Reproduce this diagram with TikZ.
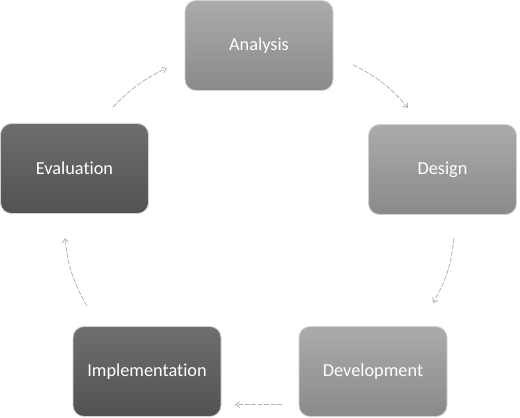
\documentclass[tikz,border=0pt]{standalone}
\usepackage{fontspec}
\setmainfont{Carlito}[Ligatures=NoCommon]
\usetikzlibrary{arrows.meta,shadings}
\definecolor{lighttop}{HTML}{ABABAB}
\definecolor{lightbot}{HTML}{8A8A8A}
\definecolor{darktop}{HTML}{6E6E6E}
\definecolor{darkbot}{HTML}{525252}
\definecolor{arrowgrey}{HTML}{B4B4B4}
\definecolor{edgegrey}{HTML}{D2D2D2}
\tikzset{
  phasebox/.style={rounded corners=11pt, minimum width=148pt, minimum height=90pt,
    draw=edgegrey, line width=0.8pt, text=white, inner sep=0pt,
    font=\fontsize{18.3}{21}\selectfont},
  lightbox/.style={phasebox, top color=lighttop, bottom color=lightbot},
  darkbox/.style={phasebox, top color=darktop, bottom color=darkbot},
  cyclearrow/.style={draw=arrowgrey, line width=0.8pt, dash pattern=on 5pt off 1.5pt,
    -{Straight Barb[length=4pt,width=6pt]}}
}
\begin{document}
\begin{tikzpicture}[x=1pt,y=-1pt]
\useasboundingbox (0,0) rectangle (520,418);
\node[lightbox] (analysis) at (259,45.5) {Analysis};
\node[lightbox] (design) at (442.5,169.5) {Design};
\node[lightbox] (development) at (373,371.5) {Development};
\node[darkbox] (implementation) at (147,371.5) {Implementation};
\node[darkbox] (evaluation) at (74.5,168.5) {Evaluation};
\coordinate (a1) at (353,65);
\coordinate (a2) at (408,108);
\coordinate (d1) at (454,238);
\coordinate (d2) at (433,303);
\coordinate (v1) at (282,404.5);
\coordinate (v2) at (235,404.5);
\coordinate (i1) at (87,306);
\coordinate (i2) at (65,238);
\coordinate (e1) at (113,107);
\coordinate (e2) at (167,68);
\draw[cyclearrow] (a1) to[bend left=12] (a2);
\draw[cyclearrow] (d1) to[bend left=12] (d2);
\draw[cyclearrow] (v1) -- (v2);
\draw[cyclearrow] (i1) to[bend left=12] (i2);
\draw[cyclearrow] (e1) to[bend left=10] (e2);
\end{tikzpicture}
\end{document}
